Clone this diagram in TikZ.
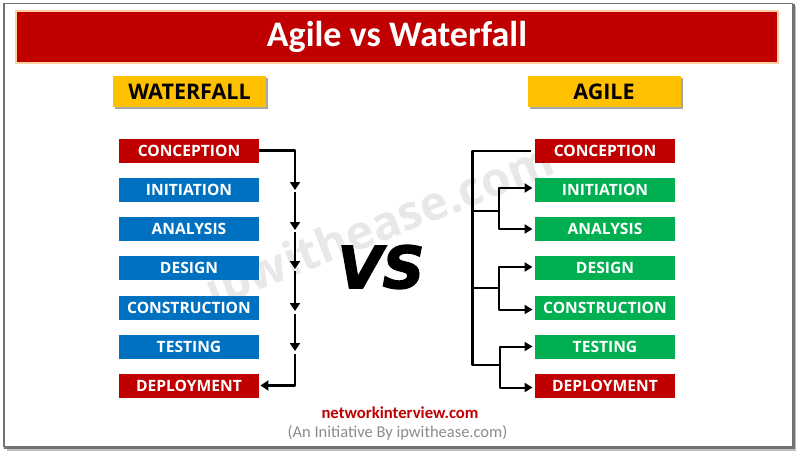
\documentclass[tikz,border=0pt]{standalone}
\usepackage{fontspec}
\setmainfont{Open Sans}
\newfontfamily\carl{Carlito}
\newfontfamily\vsfont[FakeBold=2.5]{DejaVu Sans}
\usetikzlibrary{arrows.meta,shadows,fadings}
\definecolor{wred}{HTML}{C00000}
\definecolor{wblue}{HTML}{0070C0}
\definecolor{wgreen}{HTML}{00B050}
\definecolor{wgold}{HTML}{FFC000}
\tikzset{
  stepbox/.style={minimum width=140.5pt,minimum height=24pt,inner sep=0pt,text=white,font=\fontsize{15.6pt}{17pt}\selectfont\bfseries},
  redbox/.style={stepbox,fill=wred},
  bluebox/.style={stepbox,fill=wblue},
  greenbox/.style={stepbox,fill=wgreen},
  headbox/.style={minimum width=153pt,minimum height=31pt,inner sep=0pt,fill=wgold,font=\fontsize{21.5pt}{24pt}\selectfont\bfseries,text=black,
    general shadow={shadow xshift=2pt,shadow yshift=-2pt,fill=black!35}},
  steplabel/.style={yshift=-0.5pt},
  link/.style={line width=2.3pt,black,line join=round},
  tiplink/.style={link,-{Triangle[length=8pt,width=10pt]}},
  arm/.style={line width=2pt,black,line join=round,-{Triangle[length=8pt,width=9pt]}}
}
\begin{document}
\begin{tikzpicture}[x=1pt,y=-1pt]
\useasboundingbox (0,0) rectangle (800,455);
\fill[white] (0,0) rectangle (800,455);
% frame
\fill[black!25] (7,447) rectangle (795,451);
\fill[black!25] (793,6) rectangle (796,451);
\draw[black!55,line width=1.6pt] (4,447) -- (4,3.5) -- (793,3.5);
\draw[black!55,line width=3pt] (793,3.5) -- (793,447.5) -- (4,447.5);
% watermark
\node[rotate=21.5,text=black!9,font=\fontsize{47pt}{50pt}\selectfont\bfseries] (wm) at (381,229) {ipwithease.com};
% title
\node[fill=wred,draw=orange!35,line width=2pt,minimum width=762pt,minimum height=52pt,inner sep=0pt,text=white,font=\carl\fontsize{36pt}{40pt}\selectfont\bfseries] (title) at (397,37) {Agile vs Waterfall};
% headers
\node[headbox] (hw) at (189.5,91.5) {\raisebox{-0.8pt}{WATERFALL}};
\node[headbox] (ha) at (604,91.5) {\raisebox{-0.8pt}{AGILE}};
% waterfall boxes
\node[redbox]  (w1) at (189,150.5) {CONCEPTION};
\node[bluebox] (w2) at (189,189.5) {INITIATION};
\node[bluebox] (w3) at (189,229) {ANALYSIS};
\node[bluebox] (w4) at (189,268) {DESIGN};
\node[bluebox] (w5) at (189,307.5) {CONSTRUCTION};
\node[bluebox] (w6) at (189,346.5) {TESTING};
\node[redbox]  (w7) at (189,385.5) {DEPLOYMENT};
% agile boxes
\node[redbox]   (a1) at (605,150.5) {CONCEPTION};
\node[greenbox] (a2) at (605,189.5) {INITIATION};
\node[greenbox] (a3) at (605,229) {ANALYSIS};
\node[greenbox] (a4) at (605,268) {DESIGN};
\node[greenbox] (a5) at (605,307.5) {CONSTRUCTION};
\node[greenbox] (a6) at (605,346.5) {TESTING};
\node[redbox]   (a7) at (605,385.5) {DEPLOYMENT};
% waterfall connectors
\coordinate (wa) at (295,190);
\coordinate (wb) at (295,192);
\coordinate (wc) at (295,230);
\coordinate (wd) at (295,232);
\coordinate (we) at (295,269);
\coordinate (wf) at (295,271);
\coordinate (wg) at (295,311);
\coordinate (wh) at (295,314);
\coordinate (wi) at (295,351);
\coordinate (wj) at (295,354);
\coordinate (wk) at (295,385.5);
\draw[tiplink] (w1.east) -| (wa);
\draw[tiplink] (wb) -- (wc);
\draw[tiplink] (wd) -- (we);
\draw[tiplink] (wf) -- (wg);
\draw[tiplink] (wh) -- (wi);
\draw[tiplink] (wj) -- (wk) -- ([xshift=1pt]w7.east);
% agile connectors
\coordinate (t1) at (531,151);
\coordinate (sp) at (472.5,151);
\coordinate (s1) at (472.5,211);
\coordinate (s2) at (472.5,288);
\coordinate (s3) at (472.5,365);
\coordinate (j1) at (499,211);
\coordinate (j2) at (499,288);
\coordinate (j3) at (500,365);
\draw[link] (t1) -- (sp) -- (s3) -- (j3);
\draw[link] (s1) -- (j1);
\draw[link] (s2) -- (j2);
\draw[arm] (j1) |- ([xshift=-2pt,yshift=1.5pt]a2.west);
\draw[arm] (j1) |- ([xshift=-2pt]a3.west);
\draw[arm] (j2) |- ([xshift=-2pt,yshift=1pt]a4.west);
\draw[arm] (j2) |- ([xshift=-2pt,yshift=-2pt]a5.west);
\draw[arm] (j3) |- ([xshift=-2pt]a6.west);
\draw[arm] (j3) |- ([xshift=-2pt,yshift=-2pt]a7.west);
% VS
\node[font=\vsfont\fontsize{58pt}{62pt}\selectfont\bfseries\itshape,text=black] (vs) at (381,267) {VS};
% footer
\node[text=wred,font=\carl\fontsize{16.7pt}{19pt}\selectfont\bfseries] (f1) at (400,413) {networkinterview.com};
\node[text=black!45,font=\carl\fontsize{16.5pt}{19pt}\selectfont] (f2) at (397.5,432.5) {(An Initiative By ipwithease.com)};
\end{tikzpicture}
\end{document}
